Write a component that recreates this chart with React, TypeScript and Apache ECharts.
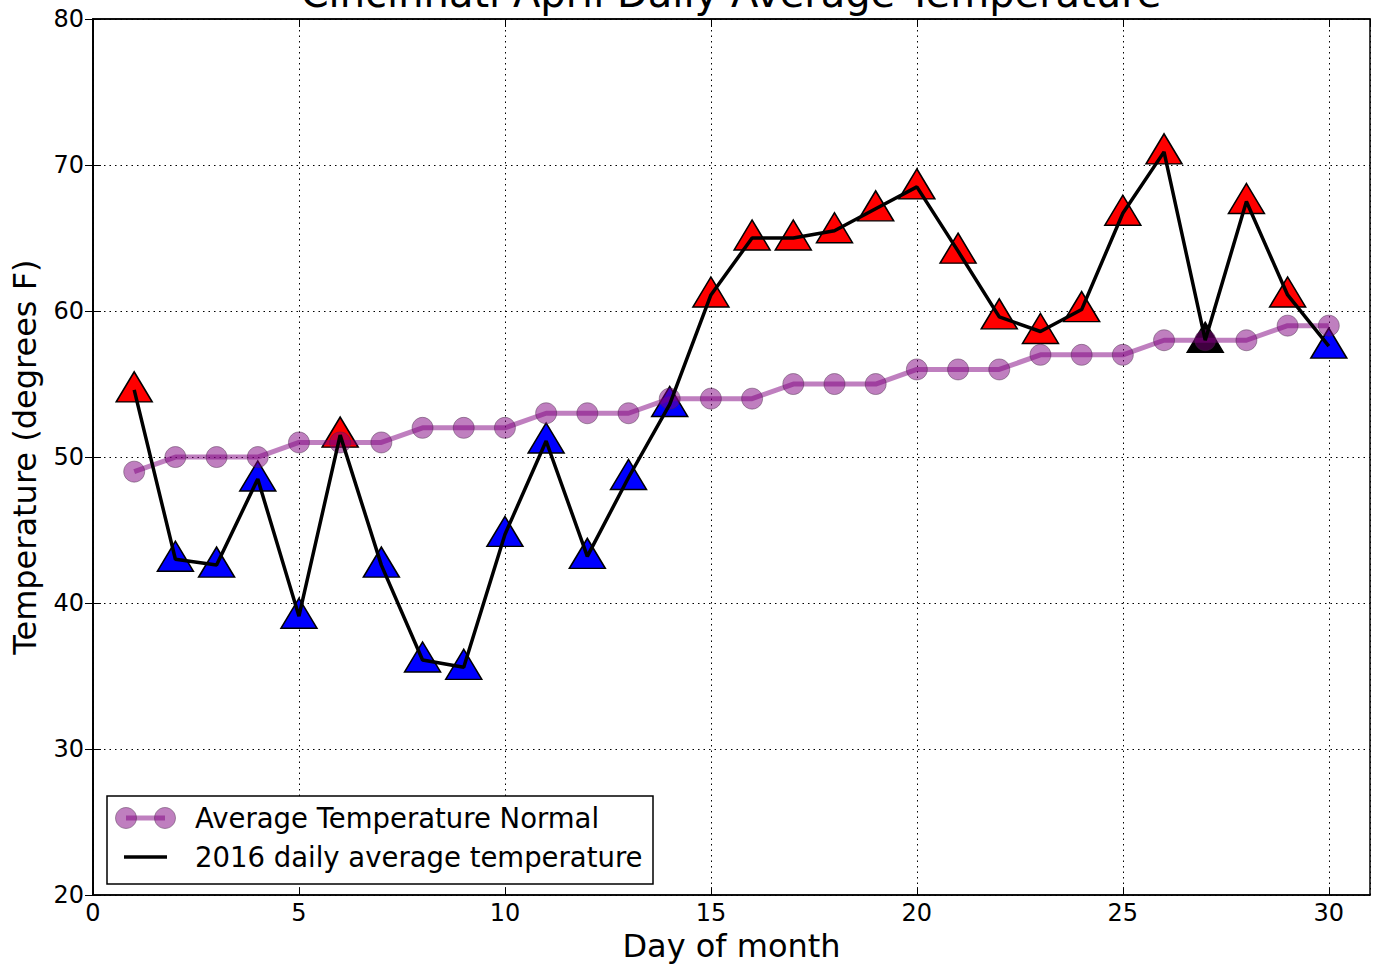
import React, { useEffect, useRef } from "react";
import * as echarts from "echarts";

const days = [1, 2, 3, 4, 5, 6, 7, 8, 9, 10, 11, 12, 13, 14, 15, 16, 17, 18, 19, 20, 21, 22, 23, 24, 25, 26, 27, 28, 29, 30];
const temps2016 = [54.6, 43.0, 42.6, 48.5, 39.1, 51.5, 42.6, 36.1, 35.6, 44.7, 51.1, 43.2, 48.6, 53.6, 61.1, 65.0, 65.0, 65.5, 67.0, 68.5, 64.1, 59.6, 58.6, 60.1, 66.7, 70.9, 58.0, 67.5, 61.1, 57.6];
const normals = [49, 50, 50, 50, 51, 51, 51, 52, 52, 52, 53, 53, 53, 54, 54, 54, 55, 55, 55, 56, 56, 56, 57, 57, 57, 58, 58, 58, 59, 59];
const yTicks = [20, 30, 40, 50, 60, 70, 80];
const xTicks = [0, 5, 10, 15, 20, 25, 30];

const TITLE = "Cincinnati April Daily Average Temperature";
const NORMAL_NAME = "Average Temperature Normal";
const DAILY_NAME = "2016 daily average temperature";
const FONT = "DejaVu Sans";

export default function App() {
  const ref = useRef<HTMLDivElement>(null);
  useEffect(() => {
    if (!ref.current) return;
    const chart = echarts.init(ref.current, null, { renderer: "svg" });
    const purple = "rgba(128,0,128,0.5)";
    const tri = days.map((d, i) => {
      const t = temps2016[i];
      const n = normals[i];
      const c = t > n ? "#ff0000" : t < n ? "#0000ff" : "#000000";
      return { value: [d, t], itemStyle: { color: c } };
    });
    const gridLine = { show: true, lineStyle: { color: "#000", width: 1, type: [1.5, 4] as any } };
    const option: any = {
      animation: false,
      backgroundColor: "#fff",
      textStyle: { fontFamily: FONT },
      grid: { left: 93, right: 7, top: 19, bottom: 70, show: true, borderColor: "#000", borderWidth: 1.5, backgroundColor: "transparent" },
      xAxis: [
        {
          type: "value",
          min: xTicks[0],
          max: 31,
          interval: 5,
          name: "Day of month",
          nameLocation: "middle",
          nameGap: 33,
          nameTextStyle: { fontFamily: FONT, fontSize: 32, color: "#000" },
          axisLine: { show: true, lineStyle: { color: "#000", width: 1.5 } },
          axisTick: { show: true, inside: true, length: 8, lineStyle: { color: "#000", width: 1 } },
          axisLabel: {
            fontFamily: FONT, fontSize: 24, color: "#000", margin: 6,
            showMaxLabel: false,
            formatter: (v: number) => (xTicks.includes(v) ? String(v) : ""),
          },
          splitLine: gridLine,
        },
        {
          type: "value",
          position: "top",
          min: xTicks[0],
          max: 31,
          interval: 5,
          axisLine: { show: true, lineStyle: { color: "#000", width: 1.5 } },
          axisTick: { show: true, inside: true, length: 8, lineStyle: { color: "#000", width: 1 } },
          axisLabel: { show: false },
          splitLine: { show: false },
        },
      ],
      yAxis: [
        {
          type: "value",
          min: yTicks[0],
          max: yTicks[yTicks.length - 1],
          interval: 10,
          name: "Temperature (degrees F)",
          nameLocation: "middle",
          nameGap: 52,
          nameTextStyle: { fontFamily: FONT, fontSize: 32, color: "#000" },
          axisLine: { show: true, lineStyle: { color: "#000", width: 1.5 } },
          axisTick: { show: true, inside: true, length: 8, lineStyle: { color: "#000", width: 1 } },
          axisLabel: { fontFamily: FONT, fontSize: 24, color: "#000", margin: 9 },
          splitLine: gridLine,
        },
        {
          type: "value",
          position: "right",
          min: yTicks[0],
          max: yTicks[yTicks.length - 1],
          interval: 10,
          axisLine: { show: true, lineStyle: { color: "#000", width: 1.5 } },
          axisTick: { show: true, inside: true, length: 8, lineStyle: { color: "#000", width: 1 } },
          axisLabel: { show: false },
          splitLine: { show: false },
        },
      ],
      series: [
        {
          type: "scatter",
          name: "markers",
          z: 2,
          symbol: "triangle",
          symbolSize: [36, 30],
          symbolOffset: [0, -3],
          itemStyle: { borderColor: "#000", borderWidth: 1.5, opacity: 1 },
          data: tri,
        },
        {
          type: "line",
          name: NORMAL_NAME,
          z: 3,
          symbol: "circle",
          symbolSize: 21,
          showSymbol: true,
          lineStyle: { color: purple, width: 5 },
          itemStyle: { color: purple, borderColor: "rgba(70,40,70,0.45)", borderWidth: 1 },
          data: days.map((d, i) => [d, normals[i]]),
        },
        {
          type: "line",
          name: DAILY_NAME,
          z: 4,
          symbol: "none",
          showSymbol: false,
          lineStyle: { color: "#000", width: 3.5 },
          data: days.map((d, i) => [d, temps2016[i]]),
        },
      ],
      graphic: [
        {
          type: "text",
          z: 100,
          x: 731,
          y: -27,
          style: { text: TITLE, fontFamily: FONT, fontSize: 40, fill: "#000", textAlign: "center", textVerticalAlign: "top" },
        },
        {
          type: "rect",
          z: 100,
          shape: { x: 107, y: 796, width: 546, height: 88 },
          style: { fill: "#fff", stroke: "#000", lineWidth: 1.5 },
        },
        {
          type: "line",
          z: 101,
          shape: { x1: 126, y1: 818, x2: 165, y2: 818 },
          style: { stroke: purple, lineWidth: 5 },
        },
        {
          type: "circle",
          z: 102,
          shape: { cx: 126, cy: 818, r: 10.5 },
          style: { fill: purple, stroke: "rgba(70,40,70,0.45)", lineWidth: 1 },
        },
        {
          type: "circle",
          z: 102,
          shape: { cx: 165, cy: 818, r: 10.5 },
          style: { fill: purple, stroke: "rgba(70,40,70,0.45)", lineWidth: 1 },
        },
        {
          type: "text",
          z: 102,
          x: 195,
          y: 818,
          style: { text: NORMAL_NAME, fontFamily: FONT, fontSize: 27.5, fill: "#000", textVerticalAlign: "middle", textAlign: "left" },
        },
        {
          type: "line",
          z: 101,
          shape: { x1: 124, y1: 857, x2: 167, y2: 857 },
          style: { stroke: "#000", lineWidth: 3.5 },
        },
        {
          type: "text",
          z: 102,
          x: 195,
          y: 857,
          style: { text: DAILY_NAME, fontFamily: FONT, fontSize: 27.5, fill: "#000", textVerticalAlign: "middle", textAlign: "left" },
        },
      ],
    };
    chart.setOption(option);
    return () => chart.dispose();
  }, []);
  return <div ref={ref} style={{ position: "absolute", left: 0, top: 0, width: 1377, height: 967 }} />;
}
